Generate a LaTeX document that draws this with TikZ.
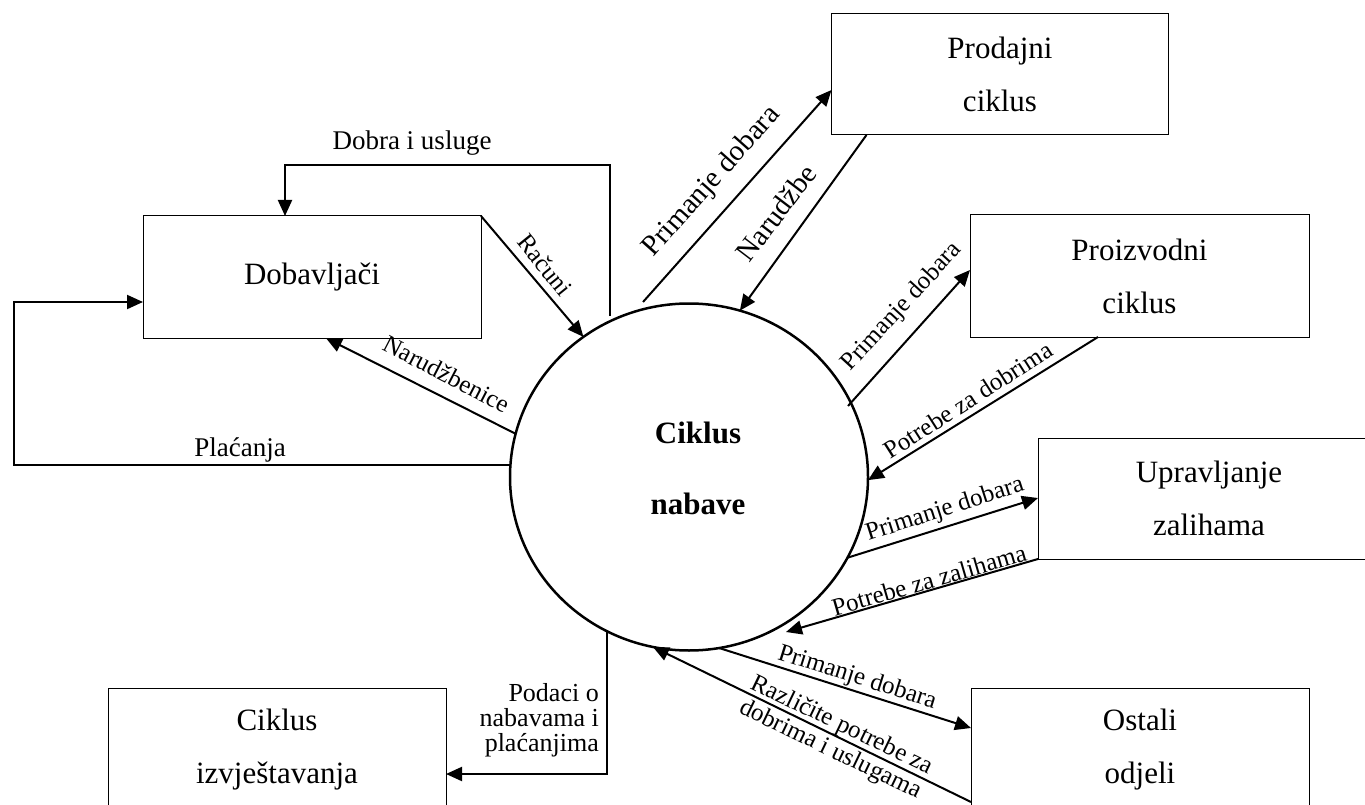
\documentclass[tikz,border=0pt]{standalone}
\usepackage{fontspec}
\setmainfont{Liberation Serif}
\usetikzlibrary{arrows.meta,shapes.geometric,calc}
\begin{document}
\begin{tikzpicture}[x=1pt,y=-1pt,
  box/.style={draw=black, line width=1pt, rectangle, inner sep=0pt, outer sep=0pt, align=center, font=\fontsize{31}{53}\selectfont},
  arr/.style={line width=2pt, -{Triangle[length=16pt,width=14pt]}},
  lab/.style={font=\fontsize{25}{28}\selectfont, inner sep=0pt},
  hlab/.style={font=\fontsize{27}{30}\selectfont, inner sep=0pt},
  biglab/.style={font=\fontsize{29}{32}\selectfont, inner sep=0pt},
]
\fill[white] (0,0) rectangle (1365,805);
\useasboundingbox (0,0) rectangle (1365,805);

% boxes
\node[box, minimum width=338pt, minimum height=122pt] (dob) at (312,277) {Dobavljači};
\node[box, minimum width=337pt, minimum height=121pt] (prod) at (1000,74.5) {Prodajni\\ciklus};
\node[box, minimum width=339pt, minimum height=122pt] (proiz) at (1139.5,276) {Proizvodni\\ciklus};
\node[box, minimum width=342pt, minimum height=121pt] (upr) at (1209,498.5) {Upravljanje\\zalihama};
\node[box, minimum width=338pt, minimum height=124pt] (ost) at (1140,750) {Ostali\\odjeli};
\node[box, minimum width=338pt, minimum height=124pt] (izv) at (277,750) {Ciklus\\izvještavanja};

% central process
\node[draw=black, line width=2.5pt, ellipse, inner sep=0pt, outer sep=0pt, minimum width=358pt, minimum height=347pt] (cn) at (689,477) {};
\node[align=center, font=\fontsize{31}{71}\selectfont\bfseries, inner sep=0pt] (cnt) at (698,468) {Ciklus\\nabave};

% free ends
\coordinate (d1) at (610,316);
\coordinate (dk) at (285,165);
\coordinate (pl) at (13.5,302);
\coordinate (p1) at (643,302);
\coordinate (p2) at (848,406);
\coordinate (zt) at (786,632);

% connectors
\draw[arr] (d1) |- (dk) -- (dk |- dob.north);
\draw[arr] (dob.north east) -- (cn.127.65);
\draw[arr] (cn.166.4) -- ($(dob.south west)!0.541!(dob.south east)$);
\draw[arr] (cn.176.8) -| (pl) -- (pl -| dob.west);
\draw[arr] (p1) -- ($(prod.north west)+(0,76)$);
\draw[arr] ($(prod.south west)+(35,0)$) -- (cn.73.4);
\draw[arr] (p2) -- ($(proiz.north west)+(0,55)$);
\draw[arr] ($(proiz.south west)+(128,0)$) -- (cn.-1.9);
\draw[arr] (cn.-27.1) -- ($(upr.north west)+(0,60)$);
\draw[arr] (upr.south west) -- (zt);
\draw[arr] (cn.-80.75) -- ($(ost.north west)+(0,40)$);
\draw[arr] ($(ost.north west)+(0,114)$) -- (cn.-102.6);
\draw[arr] (cn.-118.3) |- ($(izv.north east)+(0,86)$);

% labels
\node[hlab, anchor=base] (lDob) at (412,150) {Dobra i usluge};
\node[hlab, anchor=base] (lPla) at (240,456) {Plaćanja};
\node[lab, rotate=-51] (lRac) at (545,265) {Računi};
\node[lab, rotate=-27.4] (lNar) at (447,374) {Narudžbenice};
\node[biglab, rotate=48.3] (lPd1) at (712,182) {Primanje dobara};
\node[biglab, rotate=52.7] (lNa2) at (776,213) {Narudžbe};
\node[lab, rotate=47.4] (lPd2) at (902,307) {Primanje dobara};
\node[lab, rotate=32.6] (lPzd) at (968,400) {Potrebe za dobrima};
\node[lab, rotate=17.8] (lPd3) at (945,510) {Primanje dobara};
\node[lab, rotate=16.2] (lPzz) at (929,580) {Potrebe za zalihama};
\node[lab, rotate=-17.5] (lPd4) at (857,678) {Primanje dobara};
\node[lab, rotate=-25.7, align=center, font=\fontsize{25}{27}\selectfont] (lRaz) at (836,738) {Različite potrebe za\\dobrima i uslugama};
\node[lab, align=right, anchor=east, font=\fontsize{26}{25}\selectfont] (lPod) at (599,720) {Podaci o\\nabavama i\\plaćanjima};
\end{tikzpicture}
\end{document}
